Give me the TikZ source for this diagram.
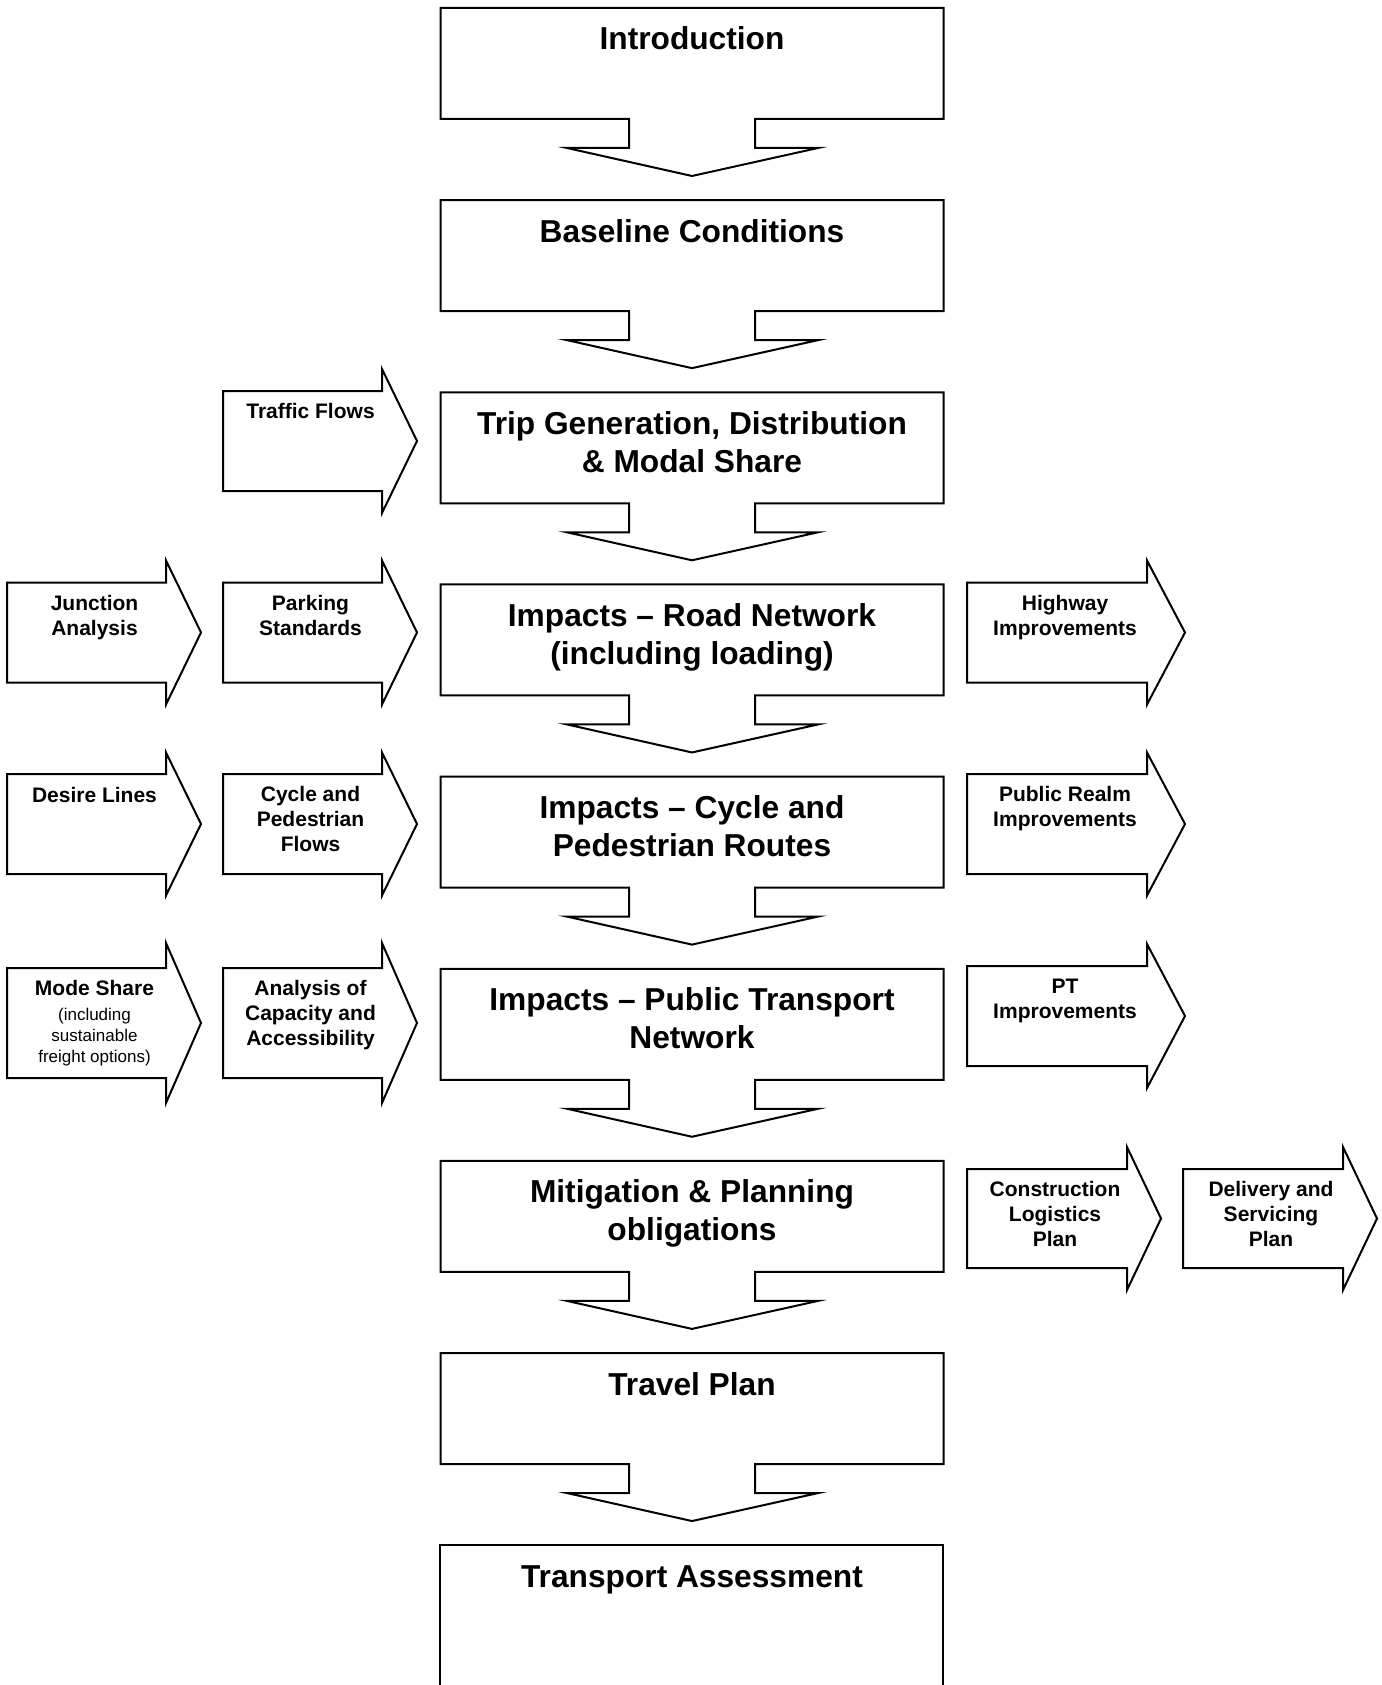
\documentclass[tikz,border=0pt]{standalone}
\usepackage{fontspec}
\setmainfont{Liberation Sans}
\tikzset{
  shapeline/.style={draw=black, line width=2pt, fill=white},
  maintext/.style={font=\fontsize{31.7}{38}\selectfont\bfseries, align=center, anchor=base, inner sep=0pt},
  sidetext/.style={font=\fontsize{21}{25}\selectfont\bfseries, align=center, anchor=base, inner sep=0pt},
  smalltext/.style={font=\fontsize{17}{21}\selectfont, align=center, anchor=base, inner sep=0pt},
  pics/callout/.style={code={
    \draw[shapeline] (-251.5,0) -- (251.5,0) -- (251.5,111) -- (63,111) -- (63,140) -- (126,140)
      -- (0,168) -- (-125,140) -- (-63,140) -- (-63,111) -- (-251.5,111) -- cycle;}},
  pics/rarrow/.style args={#1/#2/#3/#4}{code={
    \draw[shapeline] (0,0) -- (#1,0) -- (#1,-#4) -- ({#1+#2},{#3/2}) -- (#1,{#3+#4})
      -- (#1,#3) -- (0,#3) -- cycle;}},
}
\begin{document}
\begin{tikzpicture}[x=1pt,y=-1pt]
\useasboundingbox (0,0) rectangle (1381,1685);
\clip (0,0) rectangle (1381,1685);
\fill[white] (0,0) rectangle (1381,1685);

% main column (anchor=base is the baseline of the last line)
\pic at (692,8) {callout};
\node[maintext] (intro) at (692,50) {Introduction};
\pic at (692,200.15) {callout};
\node[maintext] (baseline) at (692,242.15) {Baseline Conditions};
\pic at (692,392.3) {callout};
\node[maintext] (trip) at (692,472.3) {Trip Generation, Distribution\\\& Modal Share};
\pic at (692,584.45) {callout};
\node[maintext] (road) at (692,664.45) {Impacts – Road Network\\(including loading)};
\pic at (692,776.6) {callout};
\node[maintext] (cycle) at (692,856.6) {Impacts – Cycle and\\Pedestrian Routes};
\pic at (692,968.75) {callout};
\node[maintext] (ptnet) at (692,1048.75) {Impacts – Public Transport\\Network};
\pic at (692,1160.9) {callout};
\node[maintext] (mitig) at (692,1240.9) {Mitigation \& Planning\\obligations};
\pic at (692,1353.05) {callout};
\node[maintext] (travel) at (692,1395.05) {Travel Plan};
\draw[shapeline] (440,1545.2) rectangle (943,1720);
\node[maintext] (ta) at (692,1587.2) {Transport Assessment};

% row 2
\pic at (223,391) {rarrow=159/35/100/22};
\node[sidetext] (traffic) at (310.5,418.5) {Traffic Flows};

% row 3
\pic at (7,582.5) {rarrow=159/35/100/22};
\node[sidetext] (junction) at (94.5,635) {Junction\\Analysis};
\pic at (223,582.5) {rarrow=159/35/100/22};
\node[sidetext] (parking) at (310.5,635) {Parking\\Standards};
\pic at (967,582.5) {rarrow=180/38/100/22};
\node[sidetext] (highway) at (1065,635) {Highway\\Improvements};

% row 4
\pic at (7,774) {rarrow=159/35/100/21.5};
\node[sidetext] (desire) at (94.5,802) {Desire Lines};
\pic at (223,774) {rarrow=159/35/100/21.5};
\node[sidetext] (cycped) at (310.5,851) {Cycle and\\Pedestrian\\Flows};
\pic at (967,774) {rarrow=180/38/100/21.5};
\node[sidetext] (realm) at (1065,826) {Public Realm\\Improvements};

% row 5
\pic at (7,968) {rarrow=159/35/110/25};
\node[sidetext] (mode) at (94.5,995.5) {Mode Share};
\node[smalltext] (modesub) at (94.5,1062) {(including\\sustainable\\freight options)};
\pic at (223,968) {rarrow=159/35/110/25};
\node[sidetext] (capacity) at (310.5,1045.5) {Analysis of\\Capacity and\\Accessibility};
\pic at (967,966) {rarrow=180/38/100/22};
\node[sidetext] (ptimp) at (1065,1018.5) {PT\\Improvements};

% row 6
\pic at (967,1169) {rarrow=160/34/99/22};
\node[sidetext] (clp) at (1055,1246.5) {Construction\\Logistics\\Plan};
\pic at (1183,1169) {rarrow=160/34/99/22};
\node[sidetext] (dsp) at (1271,1246.5) {Delivery and\\Servicing\\Plan};
\end{tikzpicture}
\end{document}
